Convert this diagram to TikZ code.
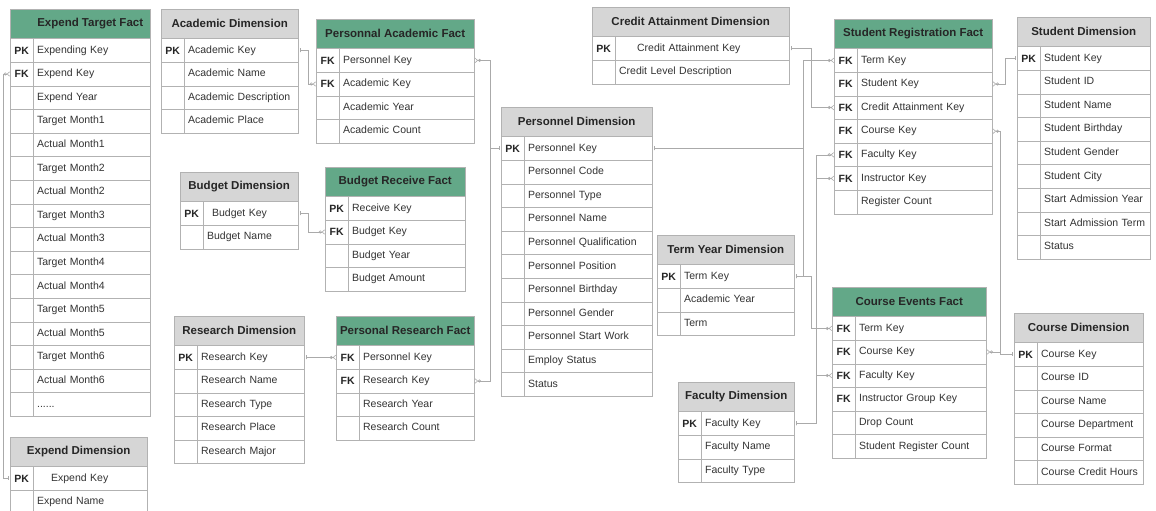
\documentclass[tikz,border=0pt]{standalone}
\usepackage{fontspec}
\setmainfont{Liberation Sans}
\usetikzlibrary{arrows.meta,calc}
\definecolor{factgreen}{RGB}{99,168,136}
\definecolor{dimgray}{RGB}{214,214,214}
\definecolor{bord}{RGB}{178,178,178}
\definecolor{relgray}{RGB}{170,170,170}
\tikzset{
  facthd/.style={draw=bord, fill=factgreen, text=black!85, font=\fontsize{11.5}{13}\selectfont\bfseries, minimum height=29pt, inner sep=0pt},
  dimhd/.style={draw=bord, fill=dimgray, text=black!85, font=\fontsize{11.5}{13}\selectfont\bfseries, minimum height=29pt, inner sep=0pt},
  keycell/.style={draw=bord, fill=white, text=black!85, font=\fontsize{10.5}{12}\selectfont\bfseries, minimum width=23pt, minimum height=23.6pt, inner sep=0pt},
  rowcell/.style={draw=bord, fill=white, text=black!80, font=\fontsize{10.5}{12}\selectfont, minimum height=23.6pt, inner xsep=3.5pt, inner ysep=0pt, align=left, text height=8pt, text depth=2.5pt},
  rel/.style={draw=relgray, line width=0.6pt, {Bar[width=4pt,sep=1pt]Bar[width=4pt]}-{Circle[open,length=3pt,width=3pt]Straight Barb[reversed,length=2.5pt,width=4.5pt]}},
  pkl/.style={draw=relgray, line width=0.6pt, {Bar[width=4pt,sep=1pt]Bar[width=4pt]}-},
}
% name, x, y, width, header style, title, rows (key/label)
\newcommand{\ertable}[7]{%
  \node[#5, minimum width=#4pt, anchor=north west] (#1) at (#2,#3) {#6};
  \pgfmathsetmacro\rowtw{#4-30}
  \foreach \kx/\lbl [count=\i] in {#7} {
    \node[keycell, anchor=north west] (#1-k\i) at ($(#1.south west)+(0,{(\i-1)*23.6})$) {\kx};
    \node[rowcell, text width=\rowtw pt, anchor=north west] (#1-\i) at (#1-k\i.north east) {\mbox{\lbl}};
  }
}
\newcommand{\sixdots}{.\kern0pt.\kern0pt.\kern0pt.\kern0pt.\kern0pt.}

\begin{document}
\begin{tikzpicture}[x=1pt, y=-1pt]
\fill[white] (0,0) rectangle (1156,511);
\useasboundingbox (0,0) rectangle (1156,511);

\ertable{etf}{10}{9}{140}{facthd}{\hspace*{20pt}Expend Target Fact}{PK/Expending Key, FK/Expend Key, /Expend Year, /Target Month1, /Actual Month1, /Target Month2, /Actual Month2, /Target Month3, /Actual Month3, /Target Month4, /Actual Month4, /Target Month5, /Actual Month5, /Target Month6, /Actual Month6, /\sixdots}
\ertable{ed}{10}{437}{137}{dimhd}{Expend Dimension}{PK/\hspace*{14pt}Expend Key, /Expend Name}
\ertable{acd}{161}{9}{137}{dimhd}{Academic Dimension}{PK/Academic Key, /Academic Name, /Academic Description, /Academic Place}
\ertable{bdd}{180}{172}{118}{dimhd}{Budget Dimension}{PK/\hspace*{5pt}Budget Key, /Budget Name}
\ertable{rd}{174}{316}{130}{dimhd}{Research Dimension}{PK/Research Key, /Research Name, /Research Type, /Research Place, /Research Major}
\ertable{paf}{316}{19}{158}{facthd}{Personnal Academic Fact}{FK/Personnel Key, FK/Academic Key, /Academic Year, /Academic Count}
\ertable{brf}{325}{167}{140}{facthd}{Budget Receive Fact}{PK/Receive Key, FK/Budget Key, /Budget Year, /Budget Amount}
\ertable{prf}{336}{316}{138}{facthd}{Personal Research Fact}{FK/Personnel Key, FK/Research Key, /Research Year, /Research Count}
\ertable{pd}{501}{107}{151}{dimhd}{Personnel Dimension}{PK/Personnel Key, /Personnel Code, /Personnel Type, /Personnel Name, /Personnel Qualification, /Personnel Position, /Personnel Birthday, /Personnel Gender, /Personnel Start Work, /Employ Status, /Status}
\ertable{cad}{592}{7}{197}{dimhd}{Credit Attainment Dimension}{PK/\hspace*{18pt}Credit Attainment Key, /Credit Level Description}
\ertable{tyd}{657}{235}{137}{dimhd}{Term Year Dimension}{PK/Term Key, /Academic Year, /Term}
\ertable{fcd}{678}{382}{116}{dimhd}{Faculty Dimension}{PK/Faculty Key, /Faculty Name, /Faculty Type}
\ertable{srf}{834}{19}{158}{facthd}{Student Registration Fact}{FK/Term Key, FK/Student Key, FK/Credit Attainment Key, FK/Course Key, FK/Faculty Key, FK/Instructor Key, /Register Count}
\ertable{cef}{832}{287}{154}{facthd}{Course Events Fact}{FK/Term Key, FK/Course Key, FK/Faculty Key, FK/Instructor Group Key, /Drop Count, /Student Register Count}
\ertable{sd}{1017}{17}{133}{dimhd}{Student Dimension}{PK/Student Key, /Student ID, /Student Name, /Student Birthday, /Student Gender, /Student City, /Start Admission Year, /Start Admission Term, /Status}
\ertable{cd}{1014}{313}{129}{dimhd}{Course Dimension}{PK/Course Key, /Course ID, /Course Name, /Course Department, /Course Format, /Course Credit Hours}

% relationships
\draw[rel] (ed-k1.west) -- ++(-7,0) |- (etf-k2.west);
\draw[rel] (acd-1.east) -- ++(9,0) |- (paf-k2.west);
\draw[rel] (bdd-1.east) -- ++(9,0) |- (brf-k2.west);
\draw[rel] (rd-1.east) -- (rd-1.east -| prf-k1.west);
\draw[rel] (pd-k1.west) -- ++(-11,0) |- (paf-1.east);
\draw[rel] (pd-k1.west) -- ++(-11,0) |- (prf-2.east);
\draw[rel] (cad-1.east) -- ++(21,0) |- (srf-k3.west);
\coordinate (tj) at ($(tyd-1.east)+(8,0)$);
\draw[rel] (tyd-1.east) -- (tj) |- (srf-k1.west);
\draw[rel] (tyd-1.east) -- ++(16,0) |- (cef-k1.west);
\draw[pkl] (pd-1.east) -- (pd-1.east -| tj);
\draw[rel] (fcd-1.east) -- ++(21,0) |- (srf-k5.west);
\draw[rel] (fcd-1.east) -- ++(21,0) |- (srf-k6.west);
\draw[rel] (fcd-1.east) -- ++(21,0) |- (cef-k3.west);
\draw[rel] (sd-k1.west) -- ++(-12,0) |- (srf-2.east);
\draw[rel] (cd-k1.west) -- ++(-14,0) |- (srf-4.east);
\draw[rel] (cd-k1.west) -- ++(-14,0) |- (cef-2.east);
\end{tikzpicture}
\end{document}
